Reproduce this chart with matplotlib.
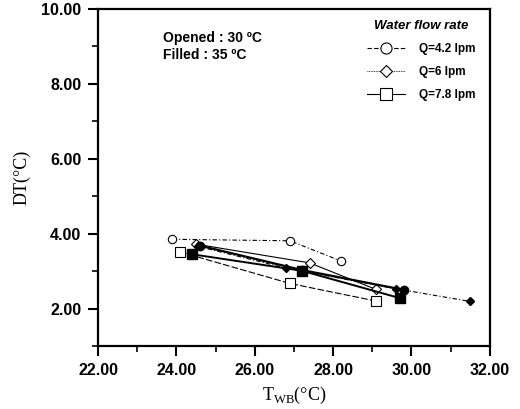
import matplotlib.pyplot as plt
from matplotlib.ticker import MultipleLocator, FormatStrFormatter
from matplotlib.lines import Line2D

# datos (T_WB, DT)
q42_open_x = [23.9, 26.9, 28.2]
q42_open_y = [3.85, 3.81, 3.27]
q6_open_x = [24.5, 27.4, 29.1]
q6_open_y = [3.72, 3.22, 2.51]
q78_open_x = [24.1, 26.9, 29.1]
q78_open_y = [3.51, 2.67, 2.20]

q42_fill_x = [24.6, 27.2, 29.8]
q42_fill_y = [3.68, 3.03, 2.50]
q6_fill_x = [24.55, 26.8, 29.6, 31.5]
q6_fill_y = [3.66, 3.08, 2.53, 2.19]
q78_fill_x = [24.4, 27.2, 29.7]
q78_fill_y = [3.45, 3.01, 2.28]

labels = ['Q=4.2 lpm', 'Q=6 lpm', 'Q=7.8 lpm']

plt.rcParams['font.family'] = ['Liberation Sans', 'DejaVu Sans']

fig = plt.figure(figsize=(5.2, 4.09), dpi=100)
ax = fig.add_axes([0.1885, 0.154, 0.7535, 0.824])

# series abiertas (30 C)
ax.plot(q42_open_x, q42_open_y, color='black', lw=0.8, ls=(0, (4, 2, 1, 2)),
        marker='o', ms=6, mfc='white', mec='black', mew=0.8)
ax.plot(q6_open_x, q6_open_y, color='black', lw=0.8, ls='-',
        marker='D', ms=5, mfc='white', mec='black', mew=0.8)
ax.plot(q78_open_x, q78_open_y, color='black', lw=0.8, ls=(0, (6, 2)),
        marker='s', ms=7, mfc='white', mec='black', mew=0.8)

# series llenas (35 C)
ax.plot(q42_fill_x, q42_fill_y, color='black', lw=1.6, ls='-',
        marker='o', ms=6, mfc='black', mec='black')
ax.plot(q6_fill_x, q6_fill_y, color='black', lw=0.8, ls=(0, (4, 2, 1, 2)),
        marker='D', ms=4.5, mfc='black', mec='black')
ax.plot(q78_fill_x, q78_fill_y, color='black', lw=1.4, ls='-',
        marker='s', ms=7, mfc='black', mec='black')

ax.set_xlim(22, 32)
ax.set_ylim(1, 10)
ax.xaxis.set_major_locator(MultipleLocator(2))
ax.xaxis.set_minor_locator(MultipleLocator(1))
ax.yaxis.set_major_locator(MultipleLocator(2))
ax.yaxis.set_minor_locator(MultipleLocator(1))
ax.xaxis.set_major_formatter(FormatStrFormatter('%.2f'))
ax.yaxis.set_major_formatter(FormatStrFormatter('%.2f'))
ax.tick_params(which='major', direction='out', length=7, width=1.5,
               labelsize=11.5, pad=5)
ax.tick_params(which='minor', direction='out', length=4, width=1.2)
for lab in ax.get_xticklabels() + ax.get_yticklabels():
    lab.set_fontweight('bold')
for s in ax.spines.values():
    s.set_linewidth(1.6)

serif = ['Liberation Serif', 'DejaVu Serif']
ax.set_xlabel('T$_{\\mathregular{WB}}$(\u00b0C)', family=serif, fontsize=13, labelpad=5)
ax.set_ylabel('DT(\u00b0C)', family=serif, fontsize=13, labelpad=8)

ax.text(0.165, 0.935, 'Opened : 30 \u00baC\nFilled : 35 \u00baC', transform=ax.transAxes,
        fontsize=10, fontweight='bold', va='top', ha='left', linespacing=1.3)

handles = [
    Line2D([], [], color='black', lw=0.8, ls=(0, (4, 2)), marker='o', ms=8,
           mfc='white', mec='black', mew=0.8),
    Line2D([], [], color='black', lw=0.6, ls=(0, (1, 1)), marker='D', ms=6,
           mfc='white', mec='black', mew=0.8),
    Line2D([], [], color='black', lw=0.8, ls='-', marker='s', ms=8,
           mfc='white', mec='black', mew=0.8),
]
leg = ax.legend(handles, labels, loc='upper right', bbox_to_anchor=(0.99, 1.0),
                frameon=False, fontsize=8.5, title='Water flow rate',
                handlelength=3.2, labelspacing=0.95, handletextpad=1.2)
leg.get_title().set_fontweight('bold')
leg.get_title().set_fontstyle('italic')
leg.get_title().set_fontsize(9.5)
for t in leg.get_texts():
    t.set_fontweight('bold')

fig.savefig('out.png', dpi=100)
